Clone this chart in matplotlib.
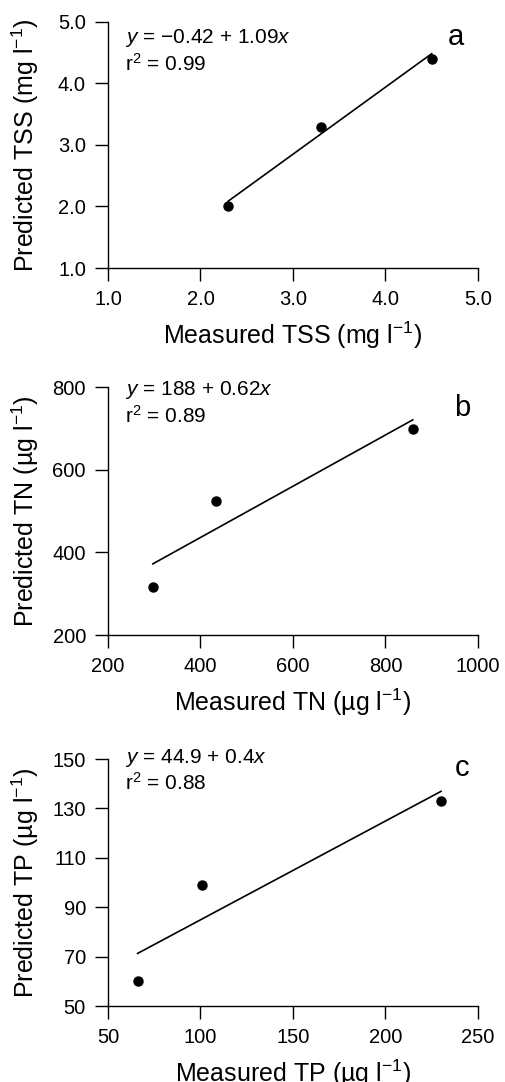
import matplotlib
matplotlib.use('Agg')
import matplotlib.pyplot as plt
import numpy as np

plt.rcParams['font.family'] = ['Liberation Sans', 'DejaVu Sans']
plt.rcParams['mathtext.fontset'] = 'custom'
plt.rcParams['mathtext.rm'] = 'Liberation Sans'
plt.rcParams['mathtext.it'] = 'Liberation Sans:italic'

# ======================================================
# data
tss_meas = [2.3, 3.3, 4.5]
tss_pred = [2.0, 3.3, 4.4]
tn_meas = [297, 433, 859]
tn_pred = [317, 524, 699]
tp_meas = [66, 101, 230]
tp_pred = [60, 99, 133]

# regression coefficients (intercept, slope)
tss_fit = (-0.42, 1.09)
tn_fit = (188, 0.62)
tp_fit = (44.9, 0.4)

tss_ticks = [1.0, 2.0, 3.0, 4.0, 5.0]
tn_ticks = [200, 400, 600, 800, 1000]
tn_yticks = [200, 400, 600, 800]
tp_ticks = [50, 100, 150, 200, 250]
tp_yticks = [50, 70, 90, 110, 130, 150]

panels = [
    dict(x=tss_meas, y=tss_pred, fit=tss_fit, xt=tss_ticks, yt=tss_ticks, fmt='%.1f',
         xlab='Measured TSS (mg l$^{-1}$)', ylab='Predicted TSS (mg l$^{-1}$)',
         eq='$y$ = \u22120.42 + 1.09$x$', r2='r$^2$ = 0.99', tag='a',
         pos=[0.2134, 0.7523, 0.7312, 0.2274], eqy=(0.915, 0.801), tagxy=(0.94, 0.94)),
    dict(x=tn_meas, y=tn_pred, fit=tn_fit, xt=tn_ticks, yt=tn_yticks, fmt='%d',
         xlab='Measured TN (\u00b5g l$^{-1}$)', ylab='Predicted TN (\u00b5g l$^{-1}$)',
         eq='$y$ = 188 + 0.62$x$', r2='r$^2$ = 0.89', tag='b',
         pos=[0.2134, 0.4131, 0.7312, 0.2292], eqy=(0.968, 0.855), tagxy=(0.957, 0.915)),
    dict(x=tp_meas, y=tp_pred, fit=tp_fit, xt=tp_ticks, yt=tp_yticks, fmt='%d',
         xlab='Measured TP (\u00b5g l$^{-1}$)', ylab='Predicted TP (\u00b5g l$^{-1}$)',
         eq='$y$ = 44.9 + 0.4$x$', r2='r$^2$ = 0.88', tag='c',
         pos=[0.2134, 0.0702, 0.7312, 0.2283], eqy=(0.984, 0.874), tagxy=(0.957, 0.962)),
]

fig = plt.figure(figsize=(5.06, 10.82), dpi=100)

for p in panels:
    ax = fig.add_axes(p['pos'])
    xs = np.array([min(p['x']), max(p['x'])])
    b0, b1 = p['fit']
    ax.plot(xs, b0 + b1 * xs, color='black', lw=1.2)
    ax.plot(p['x'], p['y'], 'o', color='black', ms=6.5)

    ax.set_xlim(p['xt'][0], p['xt'][-1])
    ax.set_ylim(p['yt'][0], p['yt'][-1])
    ax.set_xticks(p['xt'])
    ax.set_yticks(p['yt'])
    ax.set_xticklabels([p['fmt'] % v for v in p['xt']])
    ax.set_yticklabels([p['fmt'] % v for v in p['yt']])
    ax.tick_params(direction='out', length=9.4, width=1.0, labelsize=14.5, pad=6.5)
    for s in ['top', 'right']:
        ax.spines[s].set_visible(False)
    for s in ['left', 'bottom']:
        ax.spines[s].set_linewidth(1.0)
    for ln in ax.get_lines():
        ln.set_clip_on(False)

    ax.set_xlabel(p['xlab'], fontsize=18, labelpad=7.5)
    ax.set_ylabel(p['ylab'], fontsize=18)
    ax.yaxis.set_label_coords(-0.18, 0.5)

    ax.text(0.046, p['eqy'][0], p['eq'], transform=ax.transAxes, fontsize=15,
            ha='left', va='baseline')
    ax.text(0.046, p['eqy'][1], p['r2'], transform=ax.transAxes, fontsize=15,
            ha='left', va='baseline')
    ax.text(p['tagxy'][0], p['tagxy'][1], p['tag'], transform=ax.transAxes, fontsize=21,
            ha='center', va='center')

fig.savefig('out.png', dpi=100)
